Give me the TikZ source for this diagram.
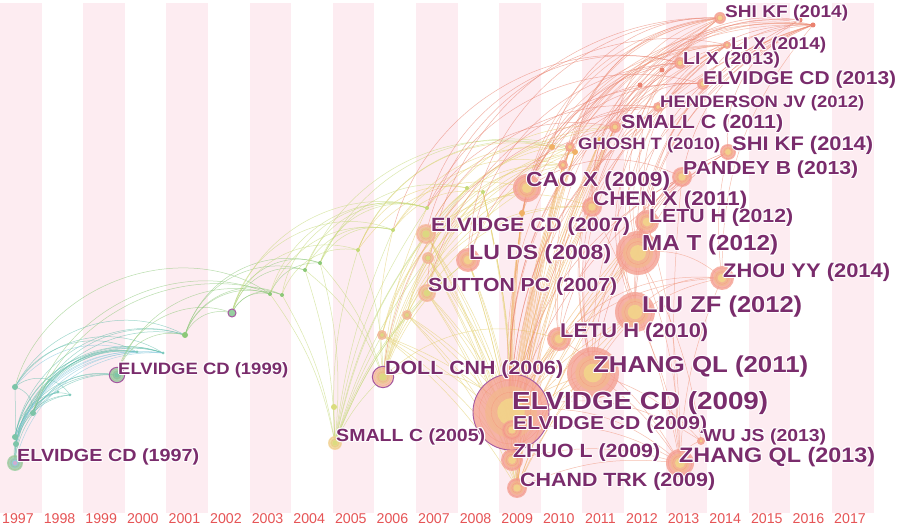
\documentclass[tikz,border=0pt]{standalone}
\usepackage{fontspec}
\setmainfont{Liberation Sans}
\usepackage{graphicx}
\definecolor{stripe}{RGB}{253,236,241}
\definecolor{labcol}{RGB}{122,44,108}
\definecolor{yearcol}{RGB}{230,84,86}
\definecolor{cteal}{RGB}{98,190,172}
\definecolor{cblue}{RGB}{130,200,220}
\definecolor{cgreen}{RGB}{140,200,120}
\definecolor{cyg}{RGB}{196,218,120}
\definecolor{cyel}{RGB}{228,208,110}
\definecolor{corange}{RGB}{240,176,100}
\definecolor{csalmon}{RGB}{240,150,124}
\definecolor{cred}{RGB}{234,130,112}
\definecolor{nsal}{RGB}{244,160,146}
\definecolor{ncen}{RGB}{242,214,138}
\definecolor{npur}{RGB}{165,88,160}
\definecolor{nteal}{RGB}{124,196,168}
\definecolor{ngreen}{RGB}{150,206,160}
\definecolor{nblue}{RGB}{150,200,232}
\definecolor{nyel}{RGB}{240,214,148}
\definecolor{nyc}{RGB}{218,220,126}
\definecolor{norg}{RGB}{243,184,154}
\newcommand\halo[1]{\leavevmode\rlap{\color{white}\kern-1pt#1}\rlap{\color{white}\kern1pt#1}\rlap{\color{white}\raisebox{1pt}{#1}}\rlap{\color{white}\raisebox{-1pt}{#1}}\rlap{\color{white}\kern-.7pt\raisebox{.7pt}{#1}}\rlap{\color{white}\kern.7pt\raisebox{.7pt}{#1}}\rlap{\color{white}\kern-.7pt\raisebox{-.7pt}{#1}}\rlap{\color{white}\kern.7pt\raisebox{-.7pt}{#1}}#1}
\newcommand\lab[6]{\node[lbl,anchor=west] (#1) at (#2,-#3) {\resizebox{#5pt}{\height}{\fontsize{\fpeval{#4*1.04}}{\fpeval{#4*1.04}}\selectfont\halo{#6}}};}
\newcommand\cit[4]{%
  \node[circle,inner sep=0,minimum size={2*#2pt},fill=#3,fill opacity=.8] (#1n) at (#1) {};
  \fill[#3!55!#4, opacity=.75] (#1) circle[radius={0.68*#2pt}];
  \fill[#4, opacity=.85] (#1) circle[radius={0.36*#2pt}];
  \draw[#3!70!red, opacity=.35, line width=.3pt] (#1) circle[radius={0.84*#2pt}] (#1) circle[radius={0.52*#2pt}];}
\begin{document}
\begin{tikzpicture}[x=1pt,y=1pt,
  lbl/.style={inner sep=0,font=\bfseries,text=labcol},
  yl/.style={anchor=base,inner sep=0,text=yearcol,font=\fontsize{14.2}{14.2}\selectfont},
  lk/.style={line width=.5pt,draw opacity=.6},
  ea/.style={lk,cteal}, eb/.style={lk,cblue}, ec/.style={lk,cgreen},
  ed/.style={lk,cyg}, ee/.style={lk,cyel}, ef/.style={lk,corange},
  eg/.style={lk,csalmon}, eh/.style={lk,cred},
  pring/.style={draw=npur,line width=1.3pt}]
\useasboundingbox (0,0) rectangle (900,-526);
\fill[white] (0,0) rectangle (900,-526);
\foreach \k in {0,2,...,20} \fill[stripe] ({41.6*\k},-3) rectangle ({41.6*\k+41.6},-513);
\foreach \yr [count=\k from 0] in {1997,...,2017} \node[yl] (yr\yr) at ({41.6*\k+18},-523.5) {\yr};
% coordinates
\coordinate (t0) at (15,-463); \coordinate (t1) at (15,-387); \coordinate (t2) at (15,-437);
\coordinate (t3) at (16,-444); \coordinate (t4) at (33,-413); \coordinate (t5) at (58,-392);
\coordinate (t6) at (70,-395); \coordinate (t7) at (137,-352); \coordinate (t8) at (163,-353);
\coordinate (t9) at (117,-375);
\coordinate (g1) at (185,-335); \coordinate (g2) at (232,-313); \coordinate (g3) at (270,-294);
\coordinate (g4) at (282,-295); \coordinate (g5) at (305,-270); \coordinate (g6) at (320,-263);
\coordinate (s5) at (335,-443); \coordinate (s5b) at (334,-407);
\coordinate (y1) at (358,-250); \coordinate (y2) at (393,-230); \coordinate (y3) at (427,-208);
\coordinate (d6) at (383,-377); \coordinate (y4) at (382,-335); \coordinate (y5) at (407,-315);
\coordinate (y6) at (428,-258); \coordinate (e7) at (426,-234); \coordinate (su) at (427,-293);
\coordinate (lu) at (468,-260); \coordinate (y7) at (467,-188); \coordinate (y8) at (483,-192);
\coordinate (eb) at (511,-412); \coordinate (es) at (512,-430); \coordinate (zh) at (512,-460);
\coordinate (ch) at (517,-488); \coordinate (ca) at (527,-188); \coordinate (o1) at (522,-213);
\coordinate (o2) at (563,-165); \coordinate (o3) at (575,-152); \coordinate (gh) at (570,-147);
\coordinate (o4) at (552,-147); \coordinate (cx) at (592,-207); \coordinate (l0) at (559,-339);
\coordinate (zq) at (593,-373); \coordinate (lz) at (635,-312); \coordinate (mt) at (638,-253);
\coordinate (l2) at (647,-222); \coordinate (sm) at (615,-127); \coordinate (he) at (658,-107);
\coordinate (pa) at (682,-177); \coordinate (sk2) at (728,-152); \coordinate (zy) at (722,-278);
\coordinate (e13) at (703,-84); \coordinate (lx3) at (680,-63); \coordinate (lx4) at (727,-45);
\coordinate (sk1) at (720,-18); \coordinate (r1) at (813,-25); \coordinate (r2) at (800,-20);
\coordinate (wu) at (701,-441); \coordinate (zq3) at (680,-463);
\coordinate (o5) at (640,-85); \coordinate (o6) at (662,-70); \coordinate (o7) at (600,-140);
% teal edges
\draw[ea] (t1) -- (t3);
\foreach \a/\b/\g in {t0/t5/40,t0/t6/45,t0/t7/50,t0/t8/55,t0/t9/45,t0/g1/50,t2/t5/35,t2/t7/45,t2/t8/50,t2/t9/40,t3/t6/40,t3/t8/50,t4/t7/40,t4/t8/45,t4/t9/35,t4/g1/45,t1/t6/50,t1/t7/45,t1/t8/45,t1/g1/45,t1/t4/40,t3/t7/45,t2/g1/50,t4/t6/50,t3/t9/40}
  \draw[ea] (\a) to[bend left=\g] (\b);
\foreach \a/\b/\g in {t0/t8/40,t2/t8/38,t4/t8/30,t1/t7/35,t3/t7/38,t2/t7/30}
  \draw[eb] (\a) to[bend left=\g] (\b);
% green edges
\foreach \a/\b/\g in {t9/g1/45,t9/g2/50,t9/g3/45,g1/g3/45,g1/g4/50,g1/g2/40,g2/g3/40,g2/g4/45,g2/g5/45,g2/g6/50,g1/g5/45,g3/g6/35,t4/g3/50,t1/g3/55,t4/g4/45,g1/g6/45}
  \draw[ec] (\a) to[bend left=\g] (\b);
% yellow-green edges
\foreach \a/\b/\g in {g2/y1/45,g2/y2/50,g3/y2/40,g4/y1/40,g5/y2/40,g5/y3/45,g6/y3/45,g3/y3/45,g6/y2/40,g4/y3/50,g2/y3/45,g5/s5/8,g6/s5/10,g3/s5/12,g4/s5/10,s5/y1/10,s5/y4/5,s5/y5/8,s5/d6/10,s5/e7/12,s5/su/12,s5/y6/10,s5/y2/8,s5/y3/12,s5/s5b/2,s5/lu/15,s5/y7/15,g6/y7/40,g5/d6/15,g6/d6/12,y1/d6/10,g5/o4/40,g6/gh/40,y1/o3/45}
  \draw[ed] (\a) to[bend left=\g] (\b);
% yellow edges
\foreach \a/\b/\g in {d6/y2/10,d6/y3/10,d6/e7/10,d6/lu/15,d6/su/10,d6/y6/10,d6/y7/15,d6/y8/15,d6/ca/20,d6/gh/25,d6/o2/25,d6/l0/30,d6/eb/30,y1/ca/35,y2/o2/35,y3/gh/30,y1/o4/40,y2/o3/35,y5/ca/30,y4/o2/30,su/o3/30,su/gh/30,e7/o2/30,lu/o3/25,y6/o4/30,y5/cx/35,y4/sm/35,e7/sm/35,su/cx/30,y2/y8/30,y1/y7/40,y6/o2/35,y5/o3/35,e7/cx/30,y4/ca/30,su/sm/40}
  \draw[ee] (\a) to[bend left=\g] (\b);
% orange fan
\foreach \s in {eb,es,zh,ch} {
  \foreach \t/\g in {ca/6,o1/4,cx/8,l0/8,zq/10,lz/8,mt/8,l2/6,gh/5,o2/5,o3/6,sm/8,o7/6}
    \draw[ef] (\s) to[bend left=\g] (\t);
  \foreach \t/\g in {e7/8,su/8,lu/6,y6/8,y5/10,y4/10,y8/6}
    \draw[ee] (\t) to[bend left=\g] (\s);
}
% salmon / red
\foreach \s in {ca,cx,mt,lz,l2,zq,eb,l0,o1,o2,gh,sm}
  \foreach \t/\g in {sk1/35,lx4/35,r1/35}
    \draw[eg] (\s) to[bend left=\g] (\t);
\foreach \a/\b/\g in {eb/e13/30,eb/lx3/30,eb/he/25,mt/e13/25,lz/he/30,zq/sm/20,cx/lx3/30,ca/he/35,ca/e13/35,gh/lx3/35,sm/e13/30,o2/he/35,o3/sk1/40,lu/sm/30,e7/he/35,su/e13/40,lu/lx3/40,y3/sm/35,d6/he/40,pa/r1/30,sk2/r1/40,e13/r1/30,he/r1/30,l2/pa/20,mt/pa/25,mt/sk2/30,lz/sk2/30,zq/sk2/30,eb/pa/25,l0/pa/25,ca/pa/30,eb/sk2/20,zq/pa/15,su/sk1/45,y3/e13/40,y2/lx3/45,ch/lx4/25,ca/o5/30,cx/o6/30,o5/r2/30,o6/r1/30,mt/r2/30,lz/r2/30,eb/o5/25,zq/o6/25,o7/r2/35,lu/sk1/45,e7/lx4/45,y3/lx3/45,o1/lx3/35,o4/sk1/40}
  \draw[eh] (\a) to[bend left=\g] (\b);
\foreach \a/\b/\g in {eb/zq3/25,es/zq3/20,zh/zq3/15,ch/zq3/15,zq/zq3/10,lz/zq3/10,mt/zq3/10,l0/zq3/15,eb/wu/25,zq/wu/15,mt/wu/10,zq3/wu/30,l2/zq3/8,cx/zq3/8,zq3/pa/5,lz/zy/25,mt/zy/25,zq/zy/25,eb/zy/30,l0/zy/25,zy/r1/20,zy/sk2/10,zq3/zy/10}
  \draw[eg] (\a) to[bend left=\g] (\b);
% small nodes
\foreach \p in {t1,t2,t3,t4} \fill[nteal] (\p) circle[radius=3pt];
\foreach \p in {t5,t6,t7,t8} \fill[cteal!80] (\p) circle[radius=1.5pt];
\fill[cgreen] (g1) circle[radius=3pt];
\foreach \p in {g3,g4,g5,g6} \fill[cgreen] (\p) circle[radius=2pt];
\foreach \p in {y1,y2,y3,y7,y8} \fill[cyg] (\p) circle[radius=2pt];
\fill[nyc] (s5b) circle[radius=3pt];
\foreach \p in {o1,o3,o4,o7} \fill[corange] (\p) circle[radius=3pt];
\foreach \p in {o5,o6,r1,r2} \fill[cred] (\p) circle[radius=2.5pt];
\draw[pring,line width=1pt,fill=ngreen] (g2) circle[radius=4pt];
% cited nodes
\cit{t0}{8}{ngreen}{nblue}
\fill[npur!50] (t0) circle[radius=2pt];
\draw[pring] (t9) circle[radius=7.5pt];
\cit{t9}{7}{ngreen}{nteal}
\cit{s5}{7}{nyel}{nyc}
\draw[pring] (d6) circle[radius=10.5pt];
\cit{d6}{10}{norg}{nyc}
\cit{y4}{5}{norg}{nyc}
\cit{y5}{5}{norg}{nyc}
\cit{y6}{6}{norg}{nyc}
\cit{e7}{10}{norg}{nyc}
\cit{su}{9}{norg}{nyc}
\cit{lu}{12}{nsal}{ncen}
\cit{eb}{38}{nsal}{ncen}
\draw[npur,line width=.9pt] (eb) circle[radius=38pt];
\cit{es}{10}{nsal}{ncen}
\cit{zh}{11}{nsal}{ncen}
\cit{ch}{10}{nsal}{ncen}
\cit{ca}{14}{nsal}{ncen}
\cit{o2}{5}{nsal}{ncen}
\cit{gh}{5}{nsal}{ncen}
\cit{cx}{10}{nsal}{ncen}
\cit{l0}{12}{nsal}{ncen}
\cit{zq}{26}{nsal}{ncen}
\cit{lz}{20}{nsal}{ncen}
\cit{mt}{22}{nsal}{ncen}
\cit{l2}{12}{nsal}{ncen}
\cit{sm}{6}{nsal}{ncen}
\cit{he}{5}{nsal}{ncen}
\cit{pa}{10}{nsal}{ncen}
\cit{sk2}{8}{nsal}{ncen}
\cit{zy}{12}{nsal}{ncen}
\cit{e13}{6}{nsal}{ncen}
\cit{lx3}{6}{nsal}{ncen}
\cit{lx4}{4}{nsal}{ncen}
\cit{sk1}{6}{nsal}{ncen}
\cit{wu}{4}{nsal}{ncen}
\cit{zq3}{14}{nsal}{ncen}
% labels
\lab{sk1l}{725}{13}{16.4}{123}{SHI KF (2014)}
\lab{lx4l}{731}{45}{16.4}{95}{LI X (2014)}
\lab{lx3l}{683}{60}{16.7}{97}{LI X (2013)}
\lab{e13l}{703}{80}{17.9}{193}{ELVIDGE CD (2013)}
\lab{hel}{660}{103}{15.9}{204}{HENDERSON JV (2012)}
\lab{sml}{621}{124}{18.3}{162}{SMALL C (2011)}
\lab{ghl}{578}{145}{15.8}{142}{GHOSH T (2010)}
\lab{sk2l}{732}{145}{18.9}{141}{SHI KF (2014)}
\lab{pal}{683}{170}{18.1}{175}{PANDEY B (2013)}
\lab{cal}{526}{181}{19.6}{144}{CAO X (2009)}
\lab{cxl}{593}{200}{19.1}{154}{CHEN X (2011)}
\lab{l2l}{649}{218}{18.3}{144}{LETU H (2012)}
\lab{e7l}{431}{227}{18.5}{199}{ELVIDGE CD (2007)}
\lab{mtl}{642}{245}{20.9}{136}{MA T (2012)}
\lab{lul}{469}{254}{19.8}{142}{LU DS (2008)}
\lab{zyl}{723}{272}{18.9}{167}{ZHOU YY (2014)}
\lab{sul}{428}{287}{18.2}{189}{SUTTON PC (2007)}
\lab{lzl}{642}{307}{22}{160}{LIU ZF (2012)}
\lab{l0l}{560}{332}{19.1}{148}{LETU H (2010)}
\lab{d6l}{385}{370}{18.4}{178}{DOLL CNH (2006)}
\lab{zql}{593}{367}{22.1}{215}{ZHANG QL (2011)}
\lab{e99l}{118}{370}{15.8}{170}{ELVIDGE CD (1999)}
\lab{ebl}{512}{403}{23.8}{256}{ELVIDGE CD (2009)}
\lab{esl}{513}{425}{18}{194}{ELVIDGE CD (2009)}
\lab{s5l}{336}{437}{16.9}{149}{SMALL C (2005)}
\lab{wul}{703}{437}{16.7}{123}{WU JS (2013)}
\lab{e97l}{17}{457}{16.9}{182}{ELVIDGE CD (1997)}
\lab{zhl}{513}{453}{18.4}{147}{ZHUO L (2009)}
\lab{zq3l}{679}{457}{20.1}{196}{ZHANG QL (2013)}
\lab{chl}{520}{482}{18.4}{195}{CHAND TRK (2009)}
\end{tikzpicture}
\end{document}
